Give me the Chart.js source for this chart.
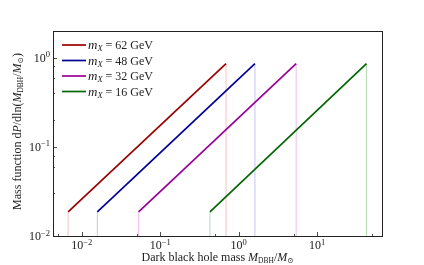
<!DOCTYPE html>
<html>
<head>
<meta charset="utf-8">
<script src="https://cdn.jsdelivr.net/npm/chart.js@4"></script>
<style>
  html, body { margin: 0; padding: 0; background: #fff; }
  #wrap { width: 424px; height: 265px; }
</style>
</head>
<body>
<div id="wrap"><canvas id="chart" width="424" height="265"></canvas></div>
<script>
// values
const massLabels = ['62', '48', '32', '16'];
const colors = ['#990000', '#000099', '#990099', '#006600'];
const fadedColors = ['rgba(220,60,60,0.3)', 'rgba(60,60,220,0.3)', 'rgba(200,40,200,0.3)', 'rgba(40,150,40,0.35)'];
const massStart = [0.0067, 0.0158, 0.053, 0.43];
const massEnd = [0.69, 1.61, 5.4, 42.5];
const fracStart = [0.0186, 0.0186, 0.0186, 0.0186];
const fracEnd = [0.86, 0.86, 0.86, 0.86];
const yFloor = 0.01;

const xTickLabels = [-2, -1, 0, 1];
const yTickLabels = [-2, -1, 0];

const SERIF = '"Liberation Serif", "DejaVu Serif", serif';

const datasets = [];
massLabels.forEach((m, i) => {
    datasets.push({
        label: 'mX = ' + m + ' GeV',
        data: [{x: massStart[i], y: fracStart[i]}, {x: massEnd[i], y: fracEnd[i]}],
        borderColor: colors[i],
        borderWidth: 1.7,
        pointRadius: 0,
        order: 0
    });
    // faint vertical guides at both ends
    datasets.push({
        label: '',
        data: [{x: massStart[i], y: yFloor}, {x: massStart[i], y: fracStart[i]}],
        borderColor: fadedColors[i],
        borderWidth: 1,
        pointRadius: 0,
        order: 1
    });
    datasets.push({
        label: '',
        data: [{x: massEnd[i], y: yFloor}, {x: massEnd[i], y: fracEnd[i]}],
        borderColor: fadedColors[i],
        borderWidth: 1,
        pointRadius: 0,
        order: 1
    });
});

// draws a list of text pieces: {t, size, italic, dy}
const drawRich = (ctx, parts, x, y, align) => {
    const widths = parts.map(p => {
        ctx.font = (p.italic ? 'italic ' : '') + p.size + 'px ' + SERIF;
        return ctx.measureText(p.t).width;
    });
    const total = widths.reduce((a, b) => a + b, 0);
    let cx = x;
    if (align === 'center') cx = x - total / 2;
    if (align === 'right') cx = x - total;
    ctx.textAlign = 'left';
    parts.forEach((p, i) => {
        ctx.font = (p.italic ? 'italic ' : '') + p.size + 'px ' + SERIF;
        ctx.fillText(p.t, cx, y + (p.dy || 0));
        cx += widths[i];
    });
};

const power = (e) => [
    {t: '10', size: 12},
    {t: (e < 0 ? '\u2212' : '') + Math.abs(e), size: 8.5, dy: -4.5}
];

const decor = {
    id: 'decor',
    afterDraw(chart) {
        const {ctx, chartArea: a, scales} = chart;
        ctx.save();
        ctx.fillStyle = '#222';
        ctx.strokeStyle = '#222';
        ctx.textBaseline = 'alphabetic';

        // inward ticks
        ctx.lineWidth = 0.8;
        ctx.beginPath();
        scales.x.ticks.forEach(t => {
            const px = Math.round(scales.x.getPixelForValue(t.value)) + 0.5;
            if (px < a.left || px > a.right) return;
            const major = Math.abs(Math.log10(t.value) - Math.round(Math.log10(t.value))) < 1e-6;
            ctx.moveTo(px, a.bottom);
            ctx.lineTo(px, a.bottom - (major ? 4 : 2));
        });
        scales.y.ticks.forEach(t => {
            const py = Math.round(scales.y.getPixelForValue(t.value)) + 0.5;
            if (py < a.top || py > a.bottom) return;
            const major = Math.abs(Math.log10(t.value) - Math.round(Math.log10(t.value))) < 1e-6;
            ctx.moveTo(a.left, py);
            ctx.lineTo(a.left + (major ? 4 : 2), py);
        });
        ctx.stroke();

        // frame
        ctx.lineWidth = 1;
        ctx.strokeRect(Math.round(a.left) + 0.5, Math.round(a.top) + 0.5,
            Math.round(a.right - a.left), Math.round(a.bottom - a.top));

        // tick labels
        xTickLabels.forEach(e => {
            drawRich(ctx, power(e), scales.x.getPixelForValue(Math.pow(10, e)), a.bottom + 13, 'center');
        });
        yTickLabels.forEach(e => {
            drawRich(ctx, power(e), a.left - 3, scales.y.getPixelForValue(Math.pow(10, e)) + 4, 'right');
        });

        // axis titles
        drawRich(ctx, [
            {t: 'Dark black hole mass ', size: 12},
            {t: 'M', size: 12, italic: true},
            {t: 'DBH', size: 7.5, dy: 2},
            {t: '/', size: 12},
            {t: 'M', size: 12, italic: true},
            {t: '\u2299', size: 7.5, dy: 2}
        ], (a.left + a.right) / 2, 261, 'center');

        ctx.save();
        ctx.translate(21, (a.top + a.bottom) / 2 - 2);
        ctx.rotate(-Math.PI / 2);
        drawRich(ctx, [
            {t: 'Mass function d', size: 12},
            {t: 'P', size: 12, italic: true},
            {t: '/dln(', size: 12},
            {t: 'M', size: 12, italic: true},
            {t: 'DBH', size: 7.5, dy: 2},
            {t: '/', size: 12},
            {t: 'M', size: 12, italic: true},
            {t: '\u2299', size: 7.5, dy: 2},
            {t: ')', size: 12}
        ], 0, 0, 'center');
        ctx.restore();

        // legend
        massLabels.forEach((m, i) => {
            const ly = 45 + i * 15.5;
            ctx.strokeStyle = colors[i];
            ctx.lineWidth = 1.7;
            ctx.beginPath();
            ctx.moveTo(62, ly);
            ctx.lineTo(86, ly);
            ctx.stroke();
            ctx.fillStyle = '#222';
            drawRich(ctx, [
                {t: 'm', size: 13, italic: true},
                {t: 'X', size: 8.5, italic: true, dy: 2},
                {t: ' = ' + m + ' GeV', size: 12}
            ], 88, ly + 4, 'left');
        });
        ctx.restore();
    }
};

new Chart(document.getElementById('chart'), {
    type: 'line',
    data: {datasets},
    options: {
        responsive: false,
        animation: false,
        events: [],
        layout: {padding: {left: 53, right: 42, top: 31, bottom: 29}},
        plugins: {legend: {display: false}, tooltip: {enabled: false}},
        scales: {
            x: {type: 'logarithmic', min: 0.0043, max: 67, display: false},
            y: {type: 'logarithmic', min: 0.01, max: 2, display: false}
        }
    },
    plugins: [decor]
});
</script>
</body>
</html>
